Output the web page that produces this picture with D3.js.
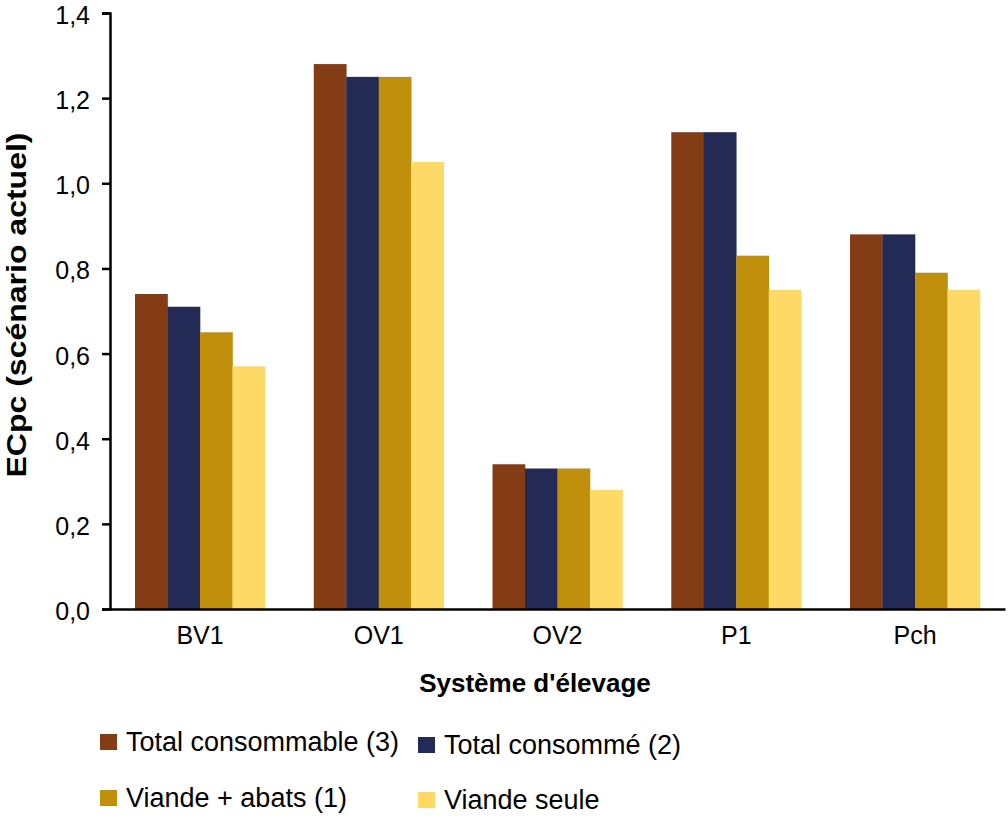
<!DOCTYPE html>
<html>
<head>
<meta charset="utf-8">
<script src="https://cdn.jsdelivr.net/npm/d3@7/dist/d3.min.js"></script>
<style>
  body { margin: 0; background: #fff; }
  svg text { font-family: "Liberation Sans", Arial, sans-serif; fill: #000; }
</style>
</head>
<body>
<div id="chart"></div>
<script>
/* ============================================================
   DATA
============================================================ */

const systems = ["BV1", "OV1", "OV2", "P1", "Pch"];
const seriesNames = [
    "Total consommable (3)",
    "Total consommé (2)",
    "Viande + abats (1)",
    "Viande seule"
];
const totalConsommable = [0.74, 1.28, 0.34, 1.12, 0.88];
const totalConsomme = [0.71, 1.25, 0.33, 1.12, 0.88];
const viandeAbats = [0.65, 1.25, 0.33, 0.83, 0.79];
const viandeSeule = [0.57, 1.05, 0.28, 0.75, 0.75];
const yTicks = [0, 0.2, 0.4, 0.6, 0.8, 1.0, 1.2, 1.4];

const colors = ["#843c14", "#222a55", "#c0900c", "#ffd966"];

/* ============================================================
   SETUP
============================================================ */

const W = 1008, H = 819;
const margin = { top: 13, right: 3, bottom: 210, left: 110 };
const width = W - margin.left - margin.right;
const height = H - margin.top - margin.bottom;

const svg = d3.select("#chart")
    .append("svg")
    .attr("width", W)
    .attr("height", H);

const g = svg.append("g")
    .attr("transform", `translate(${margin.left},${margin.top})`);

const rows = systems.map((s, i) => ({
    system: s,
    values: [totalConsommable[i], totalConsomme[i], viandeAbats[i], viandeSeule[i]]
}));

const x0 = d3.scaleBand()
    .domain(systems)
    .range([0, width])
    .paddingInner(0.273)
    .paddingOuter(0.14);

const x1 = d3.scaleBand()
    .domain(d3.range(seriesNames.length))
    .range([0, x0.bandwidth()]);

const y = d3.scaleLinear()
    .domain([0, 1.4])
    .range([height, 0]);

const fmt = d => d3.format(".1f")(d).replace(".", ",");

/* ============================================================
   BARS
============================================================ */

g.selectAll("g.group")
    .data(rows)
    .join("g")
    .attr("class", "group")
    .attr("transform", d => `translate(${x0(d.system)},0)`)
    .selectAll("rect")
    .data(d => d.values.map((v, k) => ({ v, k })))
    .join("rect")
    .attr("x", d => x1(d.k))
    .attr("width", x1.bandwidth() + 0.3)
    .attr("y", d => y(d.v))
    .attr("height", d => height - y(d.v))
    .attr("fill", d => colors[d.k]);

/* ============================================================
   AXES
============================================================ */

const yAxis = g.append("g")
    .call(d3.axisLeft(y).tickValues(yTicks).tickFormat(fmt).tickSize(8).tickPadding(12));

yAxis.select(".domain").attr("stroke", "#000").attr("stroke-width", 2.5);
yAxis.selectAll(".tick line").attr("stroke", "#000").attr("stroke-width", 2.5);
yAxis.selectAll(".tick text")
    .attr("font-size", "25px")
    .attr("dy", "0.42em")
    .attr("fill", "#000");

const xAxis = g.append("g")
    .attr("transform", `translate(0,${height})`)
    .call(d3.axisBottom(x0).tickSize(0).tickPadding(17));

xAxis.select(".domain").attr("stroke", "#000").attr("stroke-width", 2.5);
xAxis.selectAll(".tick text")
    .attr("font-size", "25px")
    .attr("fill", "#000");

// y title, stretched a little like the original export
svg.append("text")
    .attr("x", -305)
    .attr("y", 26)
    .attr("transform", "rotate(-90)")
    .attr("text-anchor", "middle")
    .attr("font-size", "27px")
    .attr("font-weight", "bold")
    .attr("textLength", 345)
    .attr("lengthAdjust", "spacingAndGlyphs")
    .text("ECpc (scénario actuel)");

svg.append("text")
    .attr("x", 535)
    .attr("y", 692)
    .attr("text-anchor", "middle")
    .attr("font-size", "26px")
    .attr("font-weight", "bold")
    .text("Système d'élevage");

/* ============================================================
   LEGEND
============================================================ */

const legendPos = [
    { x: 100, y: 734 },
    { x: 418, y: 737 },
    { x: 100, y: 790 },
    { x: 418, y: 792 }
];

const legend = svg.append("g")
    .selectAll("g")
    .data(seriesNames)
    .join("g")
    .attr("transform", (d, i) => `translate(${legendPos[i].x},${legendPos[i].y})`);

legend.append("rect")
    .attr("width", 17)
    .attr("height", 16)
    .attr("fill", (d, i) => colors[i]);

legend.append("text")
    .attr("x", 26)
    .attr("y", 17)
    .attr("font-size", "27px")
    .text(d => d);
</script>
</body>
</html>
